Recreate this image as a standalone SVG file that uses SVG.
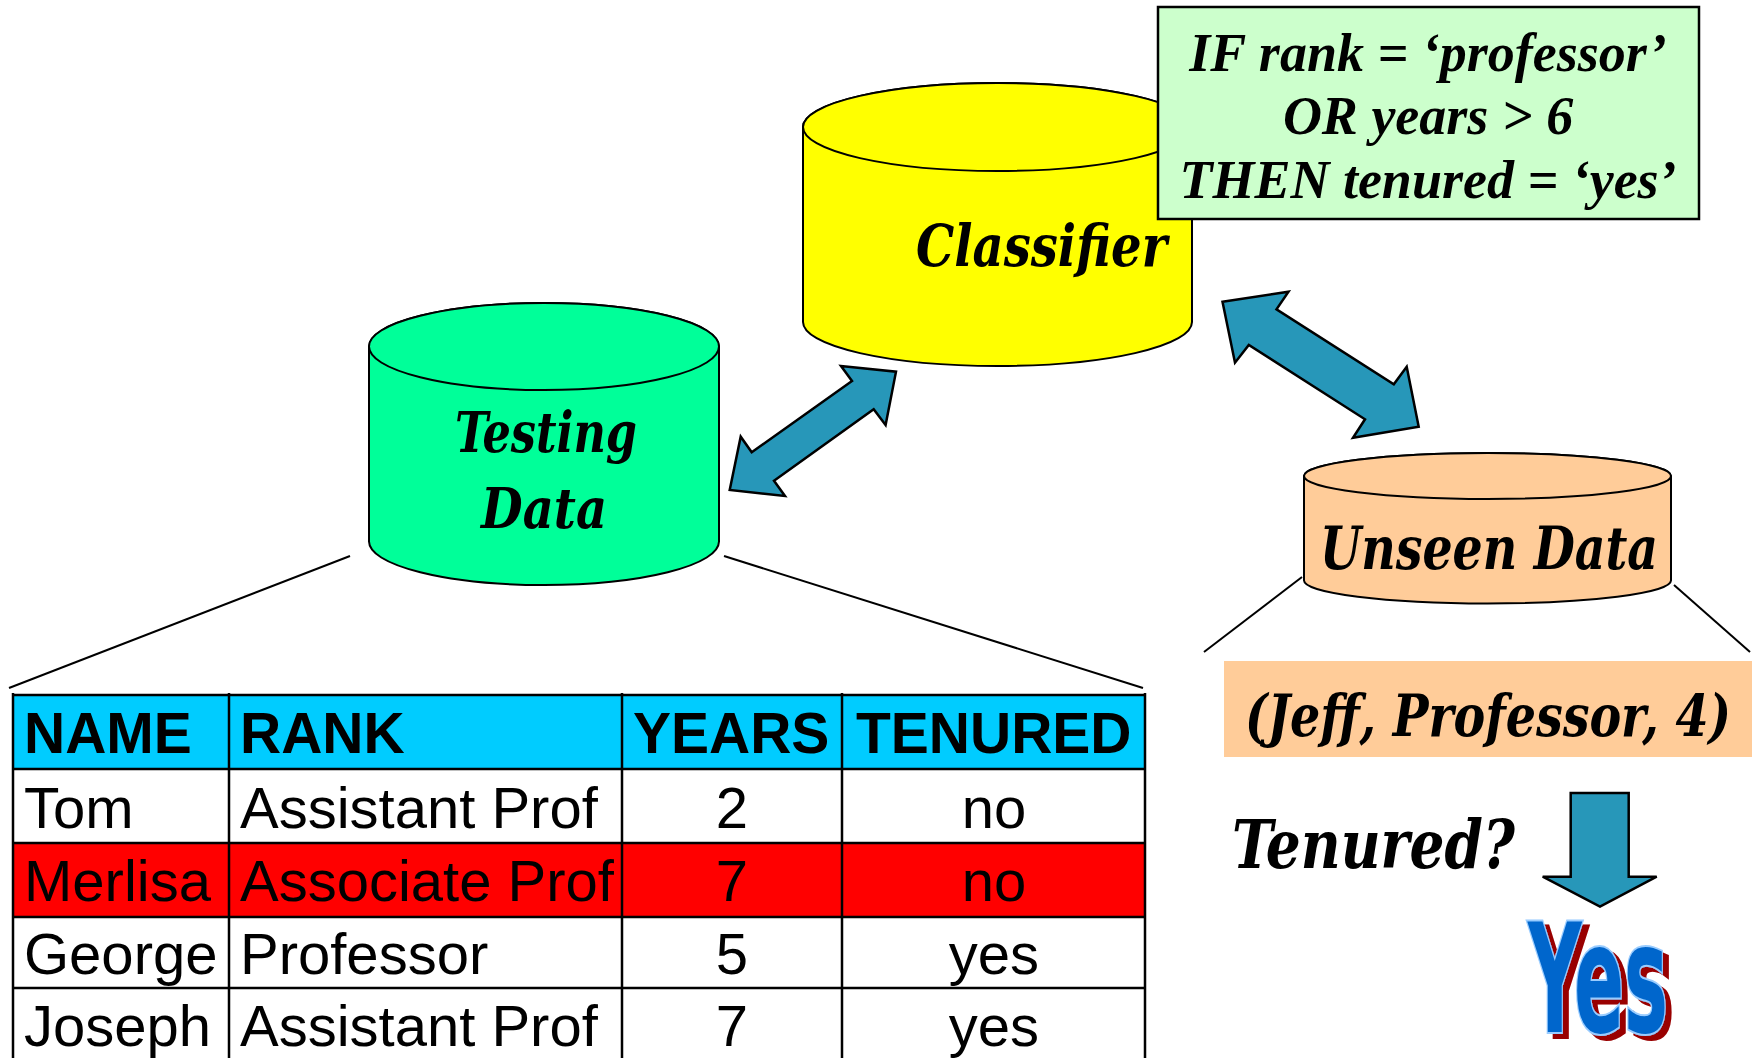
<svg xmlns="http://www.w3.org/2000/svg" width="1754" height="1058" viewBox="0 0 1754 1058">
<defs>
<filter id="redshadow" x="-10%" y="-10%" width="130%" height="130%">
  <feFlood flood-color="#990000" result="c"/>
  <feComposite in="c" in2="SourceAlpha" operator="in" result="s"/>
  <feOffset in="s" dx="6" dy="5" result="o"/>
  <feMerge><feMergeNode in="o"/><feMergeNode in="SourceGraphic"/></feMerge>
</filter>
</defs>
<style>
.lbl{font-family:'DejaVu Serif Condensed','DejaVu Serif',serif;font-stretch:condensed;font-weight:bold;font-style:italic;fill:#000}
.rule{font-family:'Liberation Serif','Times New Roman',serif;font-weight:bold;font-style:italic;font-size:54px;fill:#000;text-anchor:middle}
.cyl{stroke:#000;stroke-width:2}
.arrow{fill:#2797B9;stroke:#000;stroke-width:2.5;stroke-linejoin:miter}
.conn{stroke:#000;stroke-width:2;fill:none}
.th{font-family:'Liberation Sans',Arial,sans-serif;font-weight:bold;font-size:57px;fill:#000}
.td{font-family:'Liberation Sans',Arial,sans-serif;font-size:58px;fill:#000}
.mid{text-anchor:middle}
.grid{stroke:#000;stroke-width:2.5;fill:none}
.yes{font-family:'DejaVu Sans Condensed','DejaVu Sans',sans-serif;font-weight:bold;font-size:151px}
</style>
<rect width="1754" height="1058" fill="#fff"/>

<g id="connectors">
  <line class="conn" x1="350" y1="556" x2="9" y2="688"/>
  <line class="conn" x1="724" y1="556" x2="1143" y2="688"/>
  <line class="conn" x1="1302" y1="577" x2="1204" y2="652"/>
  <line class="conn" x1="1674" y1="585" x2="1750" y2="652"/>
  <polygon class="arrow" points="729.7,490 740.7,436.7 751.7,452.3 852,381 841,366 896,371.7 885.6,425 873.7,409.3 774,480.7 785,496"/>
  <polygon class="arrow" points="1222.5,301.7 1288.5,291.7 1276.5,309.3 1393.8,384.3 1406.7,366.7 1418.7,426.7 1353,437.7 1365,419.3 1248.8,345 1235,362.7"/>
  <polygon class="arrow" points="1570.7,793 1628.7,793 1628.7,876.7 1656.7,876.7 1600,906.7 1542.7,876.7 1570.7,876.7"/>
</g>

<g id="testing-data">
  <path class="cyl" fill="#00FF99" d="M369,346.5 L369,541.5 A175,43.5 0 0 0 719,541.5 L719,346.5 A175,43.5 0 0 0 369,346.5 Z"/>
  <ellipse class="cyl" fill="#00FF99" cx="544" cy="346.5" rx="175" ry="43.5"/>
  <text class="lbl" font-size="56" x="455" y="452" textLength="182" lengthAdjust="spacingAndGlyphs">Testing</text>
  <text class="lbl" font-size="56" x="481" y="528" textLength="126" lengthAdjust="spacingAndGlyphs">Data</text>
</g>

<g id="classifier">
  <path class="cyl" fill="#FFFF00" d="M803,127 L803,322 A194.5,44 0 0 0 1192,322 L1192,127 A194.5,44 0 0 0 803,127 Z"/>
  <ellipse class="cyl" fill="#FFFF00" cx="997.5" cy="127" rx="194.5" ry="44"/>
  <text class="lbl" font-size="57" x="916" y="266" textLength="251" lengthAdjust="spacingAndGlyphs">Classifier</text>
</g>

<g id="rule">
  <rect x="1158" y="7" width="541" height="212" fill="#CCFFCC" stroke="#000" stroke-width="2.5"/>
  <text class="rule" x="1428" y="71">IF rank = ‘professor’</text>
  <text class="rule" x="1428" y="134">OR years &gt; 6</text>
  <text class="rule" x="1428" y="198">THEN tenured = ‘yes’</text>
</g>

<g id="unseen-data">
  <path class="cyl" fill="#FFCC99" d="M1304,476 L1304,580.5 A183.5,23 0 0 0 1671,580.5 L1671,476 A183.5,23 0 0 0 1304,476 Z"/>
  <ellipse class="cyl" fill="#FFCC99" cx="1487.5" cy="476" rx="183.5" ry="23"/>
  <text class="lbl" font-size="60" x="1320" y="569" textLength="338" lengthAdjust="spacingAndGlyphs">Unseen Data</text>
</g>

<g id="tuple">
  <rect x="1224" y="661" width="528" height="96" fill="#FFCC99"/>
  <text class="lbl" font-size="58" x="1245" y="736" textLength="486" lengthAdjust="spacingAndGlyphs">(Jeff, Professor, 4)</text>
</g>

<g id="question">
  <text class="lbl" font-size="67" x="1232" y="868" textLength="283" lengthAdjust="spacingAndGlyphs">Tenured?</text>
</g>

<g id="answer" filter="url(#redshadow)">
  <text class="yes" x="1528" y="1032" textLength="140" lengthAdjust="spacingAndGlyphs" fill="#0066CC" stroke="#99CCFF" stroke-width="4" paint-order="stroke">Yes</text>
</g>

<g id="table">
  <rect x="13" y="695" width="1132" height="74" fill="#00CCFF"/>
  <rect x="13" y="769" width="1132" height="74" fill="#fff"/>
  <rect x="13" y="843" width="1132" height="74" fill="#FF0000"/>
  <rect x="13" y="917" width="1132" height="71" fill="#fff"/>
  <rect x="13" y="988" width="1132" height="70" fill="#fff"/>
  <line class="grid" x1="13" y1="695" x2="1145" y2="695" stroke-width="3.5"/>
  <line class="grid" x1="13" y1="769" x2="1145" y2="769" stroke-width="4"/>
  <line class="grid" x1="13" y1="843" x2="1145" y2="843"/>
  <line class="grid" x1="13" y1="917" x2="1145" y2="917"/>
  <line class="grid" x1="13" y1="988" x2="1145" y2="988"/>
  <line class="grid" x1="13" y1="693" x2="13" y2="1058"/>
  <line class="grid" x1="229" y1="693" x2="229" y2="1058"/>
  <line class="grid" x1="622" y1="693" x2="622" y2="1058"/>
  <line class="grid" x1="842" y1="693" x2="842" y2="1058"/>
  <line class="grid" x1="1145" y1="693" x2="1145" y2="1058"/>
  <text class="th" x="24" y="753">NAME</text>
  <text class="th" x="240" y="753">RANK</text>
  <text class="th" x="633" y="753">YEARS</text>
  <text class="th" x="856" y="753">TENURED</text>
  <text class="td" x="24" y="828">Tom</text>
  <text class="td" x="240" y="828">Assistant Prof</text>
  <text class="td mid" x="732" y="828">2</text>
  <text class="td mid" x="994" y="828">no</text>
  <text class="td" x="24" y="901">Merlisa</text>
  <text class="td" x="240" y="901">Associate Prof</text>
  <text class="td mid" x="732" y="901">7</text>
  <text class="td mid" x="994" y="901">no</text>
  <text class="td" x="24" y="974">George</text>
  <text class="td" x="240" y="974">Professor</text>
  <text class="td mid" x="732" y="974">5</text>
  <text class="td mid" x="994" y="974">yes</text>
  <text class="td" x="24" y="1046">Joseph</text>
  <text class="td" x="240" y="1046">Assistant Prof</text>
  <text class="td mid" x="732" y="1046">7</text>
  <text class="td mid" x="994" y="1046">yes</text>
</g>
</svg>
